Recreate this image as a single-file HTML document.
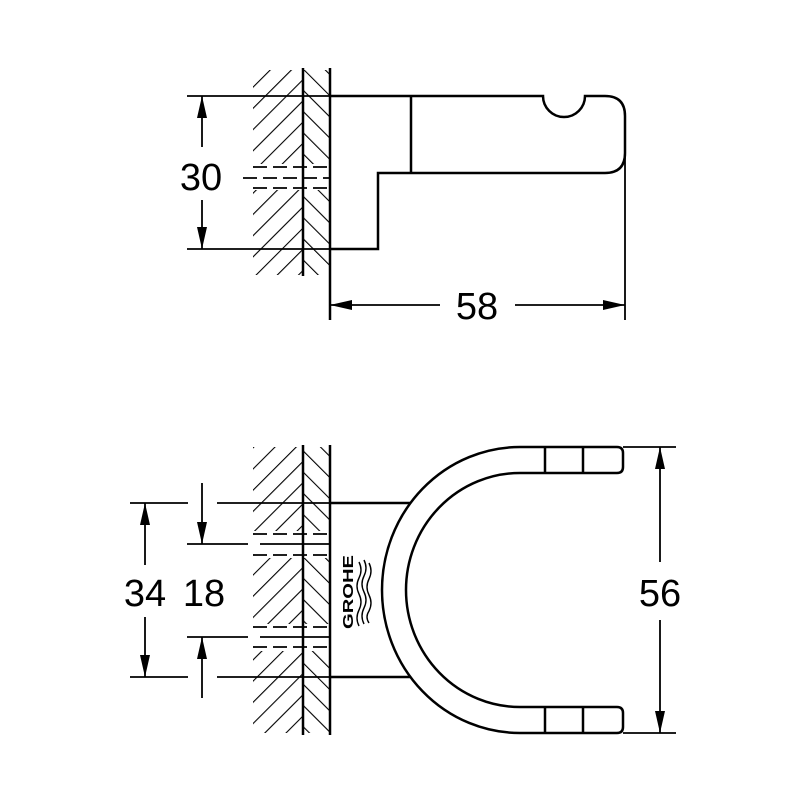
<!DOCTYPE html>
<html><head><style>html,body{margin:0;padding:0;background:#fff}svg{display:block}</style></head>
<body>
<svg width="800" height="800" viewBox="0 0 800 800" xmlns="http://www.w3.org/2000/svg" font-family="Liberation Sans, sans-serif">
<defs>
<pattern id="hl" patternUnits="userSpaceOnUse" width="15" height="15" patternTransform="rotate(45)">
<line x1="0" y1="0" x2="0" y2="15" stroke="#000" stroke-width="2.2"/>
</pattern>
<pattern id="hr" patternUnits="userSpaceOnUse" width="15" height="15" patternTransform="rotate(-45)">
<line x1="0" y1="0" x2="0" y2="15" stroke="#000" stroke-width="2.2"/>
</pattern>
<marker id="ar" viewBox="0 0 22 10" refX="22" refY="5" markerWidth="22" markerHeight="10" markerUnits="userSpaceOnUse" orient="auto">
<path d="M0,0 L22,5 L0,10 z" fill="#000"/>
</marker>
</defs>
<g fill="none" stroke="#000" stroke-width="2.5">
<!-- TOP VIEW wall -->
<rect x="253" y="70" width="50" height="205" fill="url(#hl)" stroke="none"/>
<rect x="304" y="70" width="26" height="205" fill="url(#hr)" stroke="none"/>
<rect x="245" y="164" width="84" height="26" fill="#fff" stroke="none"/>
<line x1="303" y1="68" x2="303" y2="276"/>
<line x1="330" y1="68" x2="330" y2="320"/>
<g stroke-width="1.8" stroke-dasharray="14,6">
<line x1="253" y1="167" x2="330" y2="167"/>
<line x1="243" y1="178" x2="330" y2="178"/>
<line x1="253" y1="188" x2="330" y2="188"/>
</g>
<!-- hook top -->
<path d="M330,96 H543 A21,21 0 0 0 585,96 H605 Q625,96 625,116 V153 Q625,173 605,173 H378 V249 H330"/>
<line x1="411" y1="96" x2="411" y2="173"/>
<!-- 30 dim -->
<line x1="187" y1="96" x2="330" y2="96" stroke-width="1.8"/>
<line x1="187" y1="249" x2="330" y2="249" stroke-width="1.8"/>
<line x1="202" y1="147" x2="202" y2="96" stroke-width="1.8" marker-end="url(#ar)"/>
<line x1="202" y1="200" x2="202" y2="249" stroke-width="1.8" marker-end="url(#ar)"/>
<!-- 58 dim -->
<line x1="625" y1="150" x2="625" y2="320" stroke-width="1.8"/>
<line x1="440" y1="305" x2="330" y2="305" stroke-width="1.8" marker-end="url(#ar)"/>
<line x1="515" y1="305" x2="625" y2="305" stroke-width="1.8" marker-end="url(#ar)"/>

<!-- BOTTOM VIEW wall -->
<rect x="253" y="447" width="50" height="286" fill="url(#hl)" stroke="none"/>
<rect x="304" y="447" width="26" height="286" fill="url(#hr)" stroke="none"/>
<rect x="245" y="531" width="84" height="27" fill="#fff" stroke="none"/>
<rect x="245" y="624" width="84" height="27" fill="#fff" stroke="none"/>
<line x1="303" y1="445" x2="303" y2="735"/>
<line x1="330" y1="445" x2="330" y2="735"/>
<g stroke-width="1.8" stroke-dasharray="14,6">
<line x1="253" y1="534" x2="330" y2="534"/>
<line x1="253" y1="555" x2="330" y2="555"/>
<line x1="253" y1="627" x2="330" y2="627"/>
<line x1="253" y1="647" x2="330" y2="647"/>
</g>
<!-- plate -->
<line x1="330" y1="503" x2="410" y2="503"/>
<line x1="330" y1="677" x2="410" y2="677"/>
<!-- U -->
<path d="M520,447 A138,143 0 0 0 520,733 H617 Q623,733 623,727 V713 Q623,707 617,707 H520 A114,117 0 0 1 520,473 H617 Q623,473 623,467 V453 Q623,447 617,447 Z"/>
<line x1="545" y1="447" x2="545" y2="473"/>
<line x1="583" y1="447" x2="583" y2="473"/>
<line x1="545" y1="707" x2="545" y2="733"/>
<line x1="583" y1="707" x2="583" y2="733"/>
<g stroke-width="1.8">
<line x1="130" y1="503" x2="188" y2="503"/><line x1="217" y1="503" x2="330" y2="503"/>
<line x1="130" y1="677" x2="188" y2="677"/><line x1="217" y1="677" x2="330" y2="677"/>
<line x1="145" y1="565" x2="145" y2="503" marker-end="url(#ar)"/>
<line x1="145" y1="617" x2="145" y2="677" marker-end="url(#ar)"/>
<line x1="187" y1="544" x2="248" y2="544"/><line x1="260" y1="544" x2="330" y2="544"/>
<line x1="187" y1="637" x2="248" y2="637"/><line x1="260" y1="637" x2="330" y2="637"/>
<line x1="202" y1="483" x2="202" y2="544" marker-end="url(#ar)"/>
<line x1="202" y1="698" x2="202" y2="637" marker-end="url(#ar)"/>
<line x1="623" y1="447" x2="676" y2="447"/>
<line x1="623" y1="733" x2="676" y2="733"/>
<line x1="660" y1="562" x2="660" y2="447" marker-end="url(#ar)"/>
<line x1="660" y1="620" x2="660" y2="733" marker-end="url(#ar)"/>
</g>
<!-- waves -->
<g stroke-width="1.4">
<path d="M359,562 q4,8 0,16 q-4,8 0,16 q4,8 0,16 q-4,8 0,16"/>
<path d="M364,560 q4,8 0,16 q-4,8 0,16 q4,8 0,16 q-4,8 0,16"/>
<path d="M369,563 q4,8 0,16 q-4,8 0,16 q4,8 0,16 q-4,6 0,12"/>
</g>
</g>
<g font-size="38" fill="#000" text-anchor="middle">
<text x="201" y="190">30</text>
<text x="477" y="319">58</text>
<text x="145" y="606">34</text>
<text x="204" y="606">18</text>
<text x="660" y="606">56</text>
</g>
<text x="0" y="0" font-size="15" font-weight="bold" fill="#000" text-anchor="middle" textLength="74" lengthAdjust="spacingAndGlyphs" transform="translate(353,592) rotate(-90)">GROHE</text>
</svg>
</body></html>
